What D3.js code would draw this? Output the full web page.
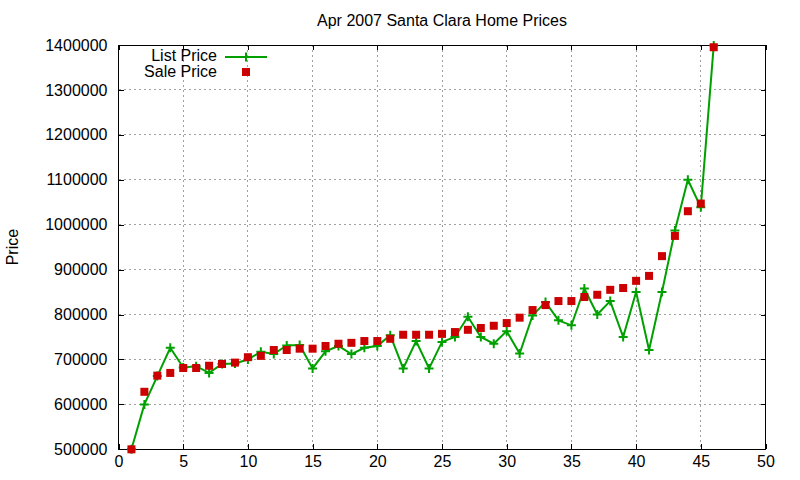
<!DOCTYPE html>
<html>
<head>
<meta charset="utf-8">
<script src="https://cdn.jsdelivr.net/npm/d3@7"></script>
<style>
  body { margin: 0; background: #fff; }
  svg text { font-family: "Liberation Sans", Arial, sans-serif; fill: #000; }
</style>
</head>
<body>
<div id="chart"></div>
<script>
// listing index (x) and prices
const listing = d3.range(1, 47);
const listPrice = [
  500000, 600000, 663000, 726000, 682000, 685000, 670000, 690000, 691000, 700000,
  717000, 712000, 731000, 732000, 680000, 718000, 730000, 712000, 726000, 730000,
  754000, 680000, 741000, 680000, 739000, 750000, 795000, 750000, 735000, 763000,
  713000, 798000, 828000, 787000, 776000, 858000, 800000, 830000, 750000, 850000,
  721000, 850000, 987000, 1100000, 1039000, 1399000
];
const salePrice = [
  500000, 628000, 664000, 670000, 681000, 681000, 686000, 690000, 693000, 705000,
  708000, 721000, 721000, 724000, 724000, 730000, 735000, 737000, 741000, 741000,
  746000, 755000, 755000, 755000, 757000, 761000, 766000, 770000, 775000, 781000,
  793000, 810000, 821000, 830000, 830000, 839000, 844000, 855000, 859000, 875000,
  886000, 930000, 975000, 1030000, 1047000, 1395000
];
const xTicks = [0, 5, 10, 15, 20, 25, 30, 35, 40, 45, 50];
const yTicks = [500000, 600000, 700000, 800000, 900000, 1000000, 1100000, 1200000, 1300000, 1400000];

const width = 800, height = 480;
const margin = { top: 45, right: 34.5, bottom: 30.7, left: 118.5 };
const innerW = width - margin.left - margin.right;
const innerH = height - margin.top - margin.bottom;

const green = "#00a000", red = "#cc0000";
const fontSize = "16px";

const svg = d3.select("#chart").append("svg")
  .attr("width", width)
  .attr("height", height);

const g = svg.append("g")
  .attr("transform", `translate(${margin.left},${margin.top})`);

const x = d3.scaleLinear().domain([0, 50]).range([0, innerW]);
const y = d3.scaleLinear().domain([500000, 1400000]).range([innerH, 0]);

// grid
g.append("g").selectAll("line")
  .data(xTicks.slice(1, -1))
  .join("line")
  .attr("x1", d => x(d)).attr("x2", d => x(d))
  .attr("y1", 0).attr("y2", innerH)
  .attr("stroke", "#a0a0a0").attr("stroke-dasharray", "2,3").attr("shape-rendering", "crispEdges");
g.append("g").selectAll("line")
  .data(yTicks.slice(1, -1))
  .join("line")
  .attr("x1", 0).attr("x2", innerW)
  .attr("y1", d => y(d)).attr("y2", d => y(d))
  .attr("stroke", "#a0a0a0").attr("stroke-dasharray", "2,3").attr("shape-rendering", "crispEdges");

// axes with inward ticks, mirrored
const tick = 5;
const xAxis = g.append("g").attr("transform", `translate(0,${innerH})`)
  .call(d3.axisBottom(x).tickValues(xTicks).tickSizeInner(-tick).tickSizeOuter(0).tickPadding(10));
const xTop = g.append("g")
  .call(d3.axisTop(x).tickValues(xTicks).tickSizeInner(-tick).tickSizeOuter(0).tickFormat(""));
const yAxis = g.append("g")
  .call(d3.axisLeft(y).tickValues(yTicks).tickSizeInner(-tick).tickSizeOuter(0).tickPadding(11).tickFormat(d3.format("d")));
const yRight = g.append("g").attr("transform", `translate(${innerW},0)`)
  .call(d3.axisRight(y).tickValues(yTicks).tickSizeInner(-tick).tickSizeOuter(0).tickFormat(""));

[xAxis, xTop, yAxis, yRight].forEach(a => {
  a.select(".domain").remove();
  a.selectAll("line").attr("stroke", "#000").attr("shape-rendering", "crispEdges");
  a.selectAll("text").style("font-size", fontSize).attr("fill", "#000");
});
xAxis.selectAll("text").attr("dy", "0.5em");

g.append("rect")
  .attr("width", innerW).attr("height", innerH)
  .attr("fill", "none").attr("stroke", "#000").attr("shape-rendering", "crispEdges");

// list price line + markers
const line = d3.line()
  .x((d, i) => x(listing[i]))
  .y(d => y(d));

g.append("path")
  .datum(listPrice)
  .attr("d", line)
  .attr("fill", "none")
  .attr("stroke", green)
  .attr("stroke-width", 2);

const plus = (cx, cy, s) => `M${cx - s},${cy}H${cx + s}M${cx},${cy - s}V${cy + s}`;

g.append("g").selectAll("path")
  .data(listPrice)
  .join("path")
  .attr("d", (d, i) => plus(x(listing[i]), y(d), 4.5))
  .attr("stroke", green)
  .attr("stroke-width", 2);

// sale price squares
const sq = 8;
g.append("g").selectAll("rect")
  .data(salePrice)
  .join("rect")
  .attr("x", (d, i) => x(listing[i]) - sq / 2)
  .attr("y", d => y(d) - sq / 2)
  .attr("width", sq).attr("height", sq)
  .attr("fill", red);

// title and y label
svg.append("text")
  .attr("x", margin.left + innerW / 2).attr("y", 26)
  .attr("text-anchor", "middle")
  .style("font-size", fontSize)
  .text("Apr 2007 Santa Clara Home Prices");

svg.append("text")
  .attr("transform", `translate(18,${margin.top + innerH / 2}) rotate(-90)`)
  .attr("text-anchor", "middle")
  .style("font-size", fontSize)
  .text("Price");

// legend
const legend = svg.append("g");
legend.append("text")
  .attr("x", 217).attr("y", 61)
  .attr("text-anchor", "end")
  .style("font-size", fontSize)
  .text("List Price");
legend.append("line")
  .attr("x1", 225).attr("x2", 267).attr("y1", 57).attr("y2", 57)
  .attr("stroke", green).attr("stroke-width", 2);
legend.append("path")
  .attr("d", plus(246, 57, 4.5))
  .attr("stroke", green).attr("stroke-width", 2);
legend.append("text")
  .attr("x", 217).attr("y", 77)
  .attr("text-anchor", "end")
  .style("font-size", fontSize)
  .text("Sale Price");
legend.append("rect")
  .attr("x", 246 - sq / 2).attr("y", 72 - sq / 2)
  .attr("width", sq).attr("height", sq)
  .attr("fill", red);
</script>
</body>
</html>
